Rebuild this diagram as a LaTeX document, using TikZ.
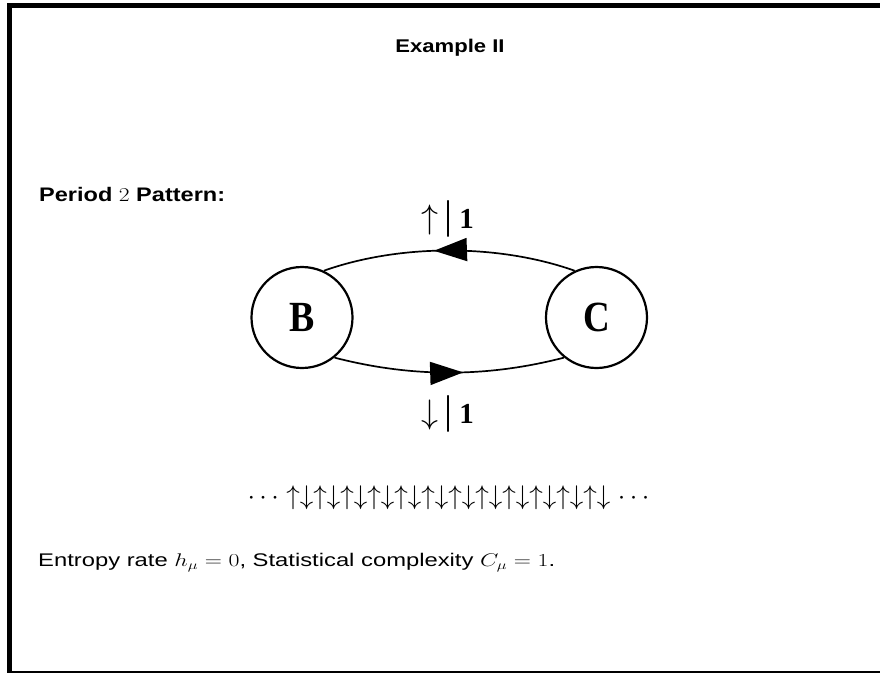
\RequirePackage{fix-cm}
\documentclass[tikz,border=0pt]{standalone}
\usepackage[no-math]{fontspec}
\usetikzlibrary{arrows.meta,decorations.markings}
\newfontfamily\sansfont{Liberation Sans}
\newfontfamily\seriffont{Liberation Serif}

\tikzset{
  state/.style={circle, draw, line width=2.2pt, minimum size=101pt, inner sep=0pt},
  edge/.style={line width=1.7pt},
  midarrow/.style={postaction={decorate}, decoration={markings,
      mark=at position 0.56 with {\arrow{Triangle[length=33pt,width=23pt]}}}},
  frame/.style={fill=black, draw=none}
}

\newcommand{\stretchtext}[2]{\scalebox{#1}[1]{#2}}
\newcommand{\edgelabel}[1]{{\fontsize{34}{36}\selectfont$#1$}\hspace{6pt}%
  {\seriffont\fontsize{40}{42}\selectfont|}\hspace{7pt}%
  {\seriffont\bfseries\fontsize{29}{31}\selectfont 1}}

\begin{document}
\begin{tikzpicture}[x=1pt, y=-1pt]
  \useasboundingbox (0,0) rectangle (880,673);

  % slide frame: heavy top and left bars, thin base line
  \fill[frame] (6.7,3.3) rectangle (880,8.3);
  \fill[frame] (6.7,3.3) rectangle (12.3,673);
  \fill[frame] (6.7,670.5) rectangle (880,673);

  % title and headings
  \node[anchor=base, inner sep=0pt] (title) at (450,52.7)
    {\stretchtext{1.2}{\sansfont\bfseries\fontsize{18.4}{21}\selectfont Example II}};
  \node[anchor=base west, inner sep=0pt] (period) at (39,201.7)
    {\stretchtext{1.2}{\sansfont\bfseries\fontsize{19.6}{22}\selectfont Period $2$ Pattern:}};

  % two-state machine
  \node[state] (B) at (302,317.5)
    {\stretchtext{0.88}{\seriffont\bfseries\fontsize{43}{45}\selectfont B}};
  \node[state] (C) at (596.5,317.5)
    {\stretchtext{0.86}{\seriffont\bfseries\fontsize{43}{45}\selectfont C}};

  \draw[edge, midarrow] (C.115) .. controls +(-76,-27) and +(76,-27) .. (B.65);
  \draw[edge, midarrow] (B.-51) .. controls +(77,20) and +(-77,20) .. (C.-129);

  \node[anchor=base, inner sep=0pt] (uplabel) at (447.5,228) {\edgelabel{\uparrow}};
  \node[anchor=base, inner sep=0pt] (downlabel) at (447.5,423) {\edgelabel{\downarrow}};

  % generated symbol sequence
  \node[anchor=base, inner sep=0pt] (sequence) at (448.5,504)
    {\fontsize{27}{30}\selectfont
     $\cdots\uparrow\downarrow\uparrow\downarrow\uparrow\downarrow\uparrow\downarrow
      \uparrow\downarrow\uparrow\downarrow\uparrow\downarrow\uparrow\downarrow
      \uparrow\downarrow\uparrow\downarrow\uparrow\downarrow\uparrow\downarrow\cdots$};

  % summary line
  \node[anchor=base west, inner sep=0pt] (summary) at (38,566.7)
    {\stretchtext{1.3}{\sansfont\fontsize{18.3}{21}\selectfont
      Entropy rate $h_\mu = 0$, Statistical complexity $C_\mu = 1$.}};
\end{tikzpicture}
\end{document}
